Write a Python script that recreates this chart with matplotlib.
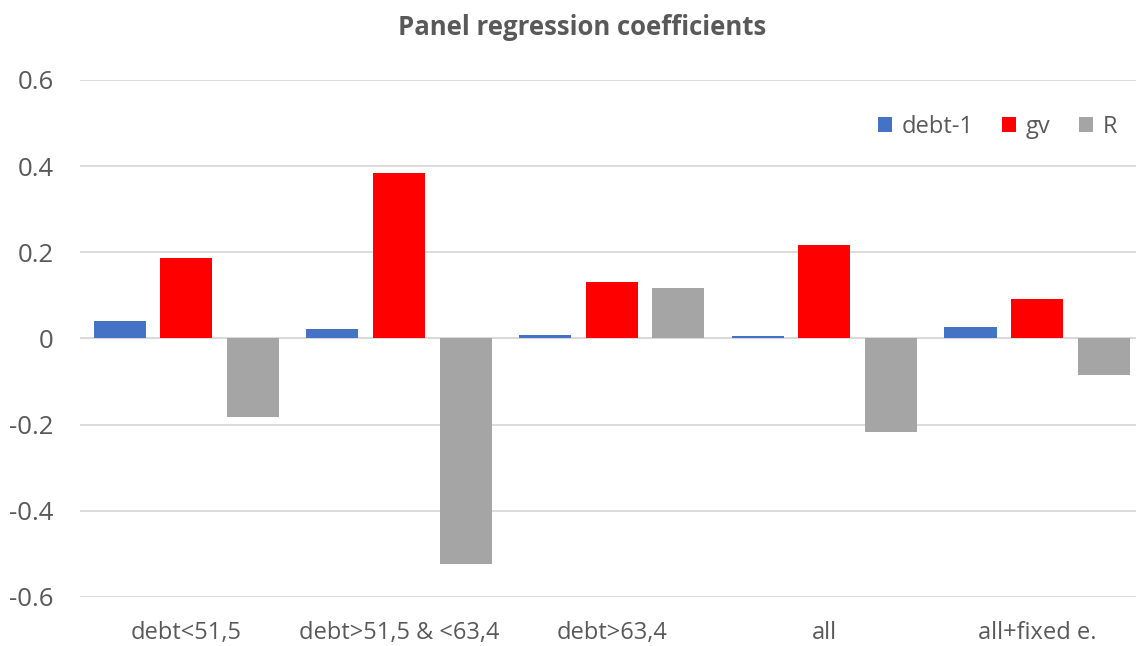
import matplotlib.pyplot as plt
import numpy as np

plt.rcParams['font.family'] = ['Open Sans', 'DejaVu Sans']

categories = ['debt<51,5', 'debt>51,5 & <63,4', 'debt>63,4', 'all', 'all+fixed e.']
debt1 = [0.040, 0.023, 0.007, 0.006, 0.026]
gv = [0.186, 0.385, 0.130, 0.216, 0.092]
R = [-0.183, -0.524, 0.118, -0.216, -0.084]
series_names = ['debt-1', 'gv', 'R']
colors = ['#4472C4', '#FF0000', '#A5A5A5']

fig = plt.figure(figsize=(11.36, 6.46), dpi=100)
ax = fig.add_axes([0.0704, 0.0759, 0.9296, 0.8003])

x = np.arange(len(categories))
pitch = 0.313
width = 0.245
for i, (vals, name, c) in enumerate(zip([debt1, gv, R], series_names, colors)):
    ax.bar(x + (i - 1) * pitch, vals, width, color=c, label=name, zorder=3)

ax.set_xlim(-0.5, 4.465)
ax.set_ylim(-0.6, 0.6)
ax.set_yticks([-0.6, -0.4, -0.2, 0, 0.2, 0.4, 0.6])
ax.set_yticklabels(['-0.6', '-0.4', '-0.2', '0', '0.2', '0.4', '0.6'])
ax.set_xticks(x)
ax.set_xticklabels(categories)
ax.grid(axis='y', color='#D9D9D9', linewidth=1.3, zorder=0)
ax.axhline(0, color='#D9D9D9', linewidth=1.5, zorder=2)
for s in ax.spines.values():
    s.set_visible(False)
ax.tick_params(axis='both', length=0, colors='#595959')
ax.tick_params(axis='y', labelsize=18.5, pad=19)
ax.tick_params(axis='x', labelsize=17, pad=17)

fig.suptitle('Panel regression coefficients', x=0.512, y=0.978, fontsize=18.5,
             fontweight='bold', color='#595959')

leg = ax.legend(loc='center right', bbox_to_anchor=(1.002, 0.909), ncol=3, frameon=False,
                fontsize=17, handlelength=0.6, handleheight=0.6, columnspacing=1.2,
                handletextpad=0.4)
for t in leg.get_texts():
    t.set_color('#595959')

fig.savefig('out.png', dpi=100)
